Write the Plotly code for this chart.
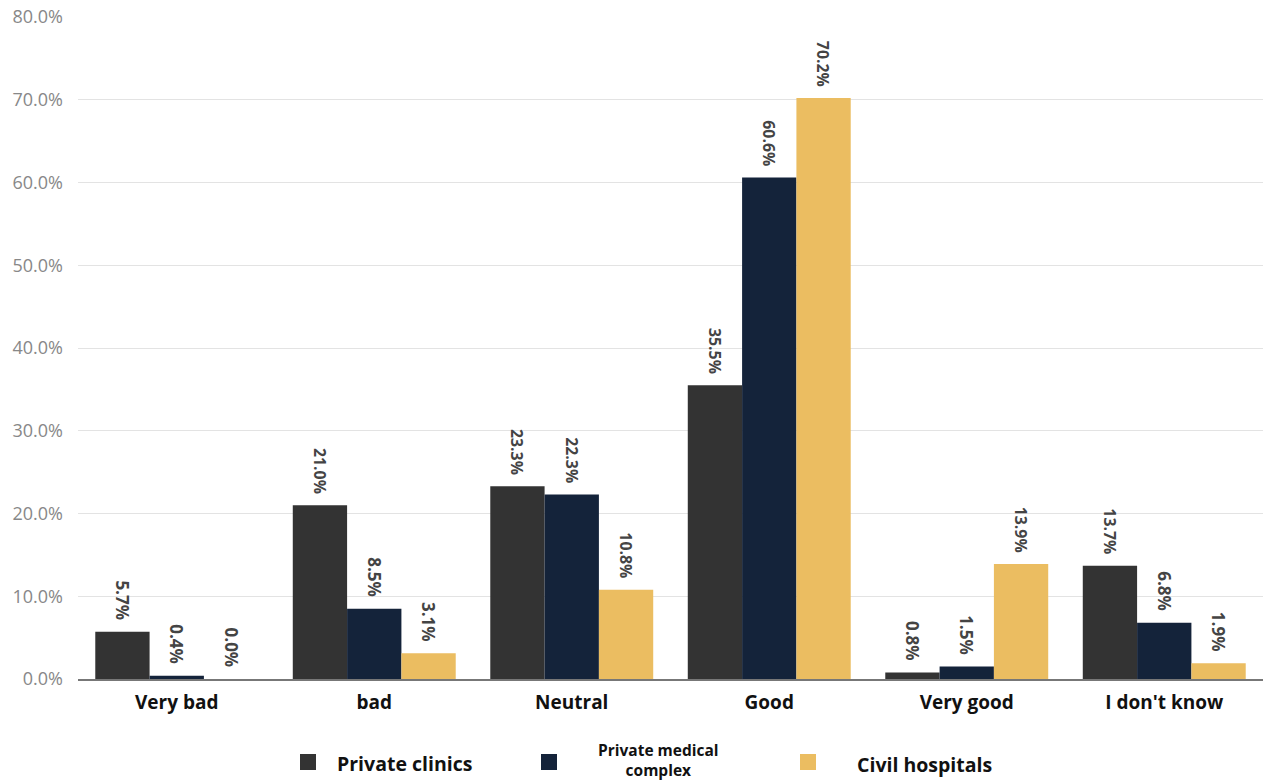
import plotly.graph_objects as go

categories = ["Very bad", "bad", "Neutral", "Good", "Very good", "I don't know"]
private_clinics = [5.7, 21.0, 23.3, 35.5, 0.8, 13.7]
private_medical_complex = [0.4, 8.5, 22.3, 60.6, 1.5, 6.8]
civil_hospitals = [0.0, 3.1, 10.8, 70.2, 13.9, 1.9]
y_ticks = [0, 10, 20, 30, 40, 50, 60, 70, 80]

series_names = ["Private clinics", "Private medical complex", "Civil hospitals"]
series_values = [private_clinics, private_medical_complex, civil_hospitals]
series_colors = ["#333333", "#14233a", "#ebbd61"]

NB = "\u00a0"

W, H = 1263, 783
M_L, M_R, M_T, M_B = 78, 0, 17, 104
PLOT_W = W - M_L - M_R
PLOT_H = H - M_T - M_B


def px_x(px):
    """Pixel column -> paper x."""
    return (px - M_L) / PLOT_W


def px_y(py):
    """Pixel row -> paper y."""
    return (H - M_B - py) / PLOT_H


fig = go.Figure()
for name, vals, color in zip(series_names, series_values, series_colors):
    fig.add_trace(go.Bar(
        x=categories,
        y=vals,
        name=name,
        showlegend=False,
        marker=dict(color=color, line=dict(width=0)),
        # trailing spaces keep the rotated label clear of the bar top
        text=[f"{v:.1f}%{NB}{NB}" for v in vals],
        textposition="outside",
        textangle=90,
        textfont=dict(family="Open Sans", size=17, color="#444444", weight="bold"),
        cliponaxis=False,
    ))

# Legend drawn below the axis: a colour square and a label per series
legend_items = [
    # (square centre x, label text, label x, label y, label anchor, font size)
    (308, "<b>Private clinics</b>", 335, 763, "left", 19.5),
    (549, "<b>Private medical<br>complex</b>", 658, 760, "center", 15.5),
    (808, "<b>Civil hospitals</b>", 855, 764, "left", 19.5),
]
shapes = []
annotations = []
sq = 8
for (cx, label, lx, ly, anchor, fsize), color in zip(legend_items, series_colors):
    shapes.append(dict(
        type="rect", xref="paper", yref="paper",
        x0=px_x(cx - sq), x1=px_x(cx + sq),
        y0=px_y(762 + sq), y1=px_y(762 - sq),
        fillcolor=color, line=dict(width=0),
    ))
    annotations.append(dict(
        xref="paper", yref="paper",
        x=px_x(lx), y=px_y(ly),
        xanchor=anchor, yanchor="middle",
        text=label, showarrow=False, align="center",
        font=dict(family="Open Sans", size=fsize, color="#111111"),
    ))

fig.update_layout(
    width=W,
    height=H,
    barmode="group",
    bargap=0.175,
    bargroupgap=0,
    plot_bgcolor="white",
    paper_bgcolor="white",
    margin=dict(l=M_L, r=M_R, t=M_T, b=M_B, autoexpand=False),
    font=dict(family="Open Sans"),
    showlegend=False,
    shapes=shapes,
    annotations=annotations,
    xaxis=dict(
        showgrid=False,
        showline=True,
        linecolor="#777777",
        linewidth=2,
        ticks="",
        ticklabelstandoff=5,
        tickfont=dict(family="Open Sans", size=19, color="#111111", weight="bold"),
    ),
    yaxis=dict(
        range=[0, 80],
        tickvals=y_ticks,
        ticktext=[f"{t:.1f}%" for t in y_ticks],
        showgrid=True,
        gridcolor="#e3e3e3",
        gridwidth=1,
        zeroline=False,
        ticks="",
        ticklabelstandoff=14,
        tickfont=dict(family="Open Sans", size=18, color="#888888"),
    ),
)

fig.write_html("out.html")
